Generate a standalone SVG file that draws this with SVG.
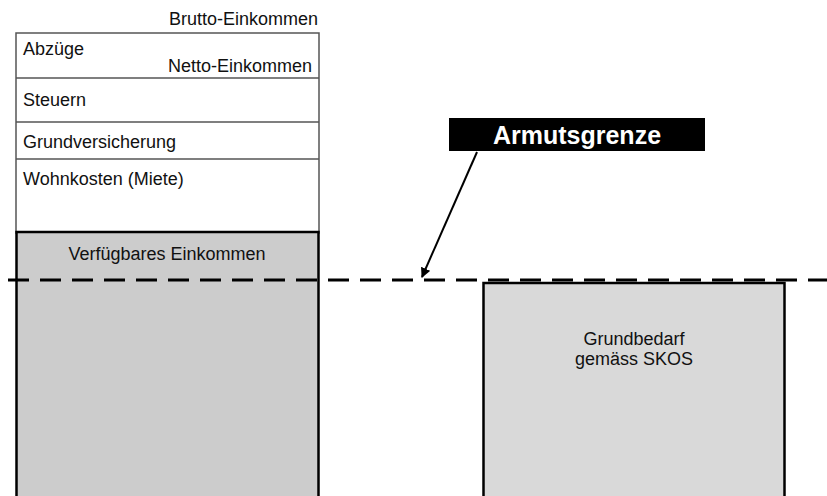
<svg xmlns="http://www.w3.org/2000/svg" width="827" height="496" viewBox="0 0 827 496">
<style>
text{font-family:"Liberation Sans",Arial,sans-serif;font-size:18px;fill:#111}
.thin{fill:#fff;stroke:#555;stroke-width:1.5}
.grey{stroke:#000;stroke-width:2.5}
.mid{text-anchor:middle}
.end{text-anchor:end}
</style>
<defs>
<marker id="ah" viewBox="0 0 10 10" refX="9" refY="5" markerWidth="10" markerHeight="10" markerUnits="userSpaceOnUse" orient="auto">
<path d="M0,0 L10,5 L0,10 z" fill="#000"/>
</marker>
</defs>
<g id="brutto">
<rect class="thin" x="16" y="33" width="303" height="200"/>
<text class="end" x="318" y="25">Brutto-Einkommen</text>
</g>
<g id="abzuege">
<line class="thin" x1="16" y1="78" x2="319" y2="78"/>
<text x="23" y="55">Abzüge</text>
<text class="end" x="312" y="72">Netto-Einkommen</text>
</g>
<g id="steuern">
<line class="thin" x1="16" y1="122" x2="319" y2="122"/>
<text x="23" y="106">Steuern</text>
</g>
<g id="grundversicherung">
<line class="thin" x1="16" y1="159" x2="319" y2="159"/>
<text x="23" y="148">Grundversicherung</text>
</g>
<g id="wohnkosten">
<text x="23" y="185">Wohnkosten (Miete)</text>
</g>
<g id="verfuegbar">
<rect class="grey" x="16.5" y="232" width="302" height="270" fill="#cccccc"/>
<text class="mid" x="167" y="260">Verfügbares Einkommen</text>
</g>
<g id="grundbedarf">
<rect class="grey" x="483.5" y="283" width="301" height="220" fill="#d9d9d9"/>
<text class="mid" x="634" y="345">Grundbedarf</text>
<text class="mid" x="634" y="365">gemäss SKOS</text>
</g>
<g id="armutsgrenze">
<rect x="449" y="118" width="256" height="33" fill="#000"/>
<text class="mid" x="577" y="143.5" style="fill:#fff;font-weight:bold;font-size:25px">Armutsgrenze</text>
</g>
<g id="connectors">
<line x1="8" y1="280" x2="827" y2="280" stroke="#000" stroke-width="3" stroke-dasharray="21 11"/>
<line x1="477" y1="152" x2="422" y2="277" stroke="#000" stroke-width="2" marker-end="url(#ah)"/>
</g>
</svg>
